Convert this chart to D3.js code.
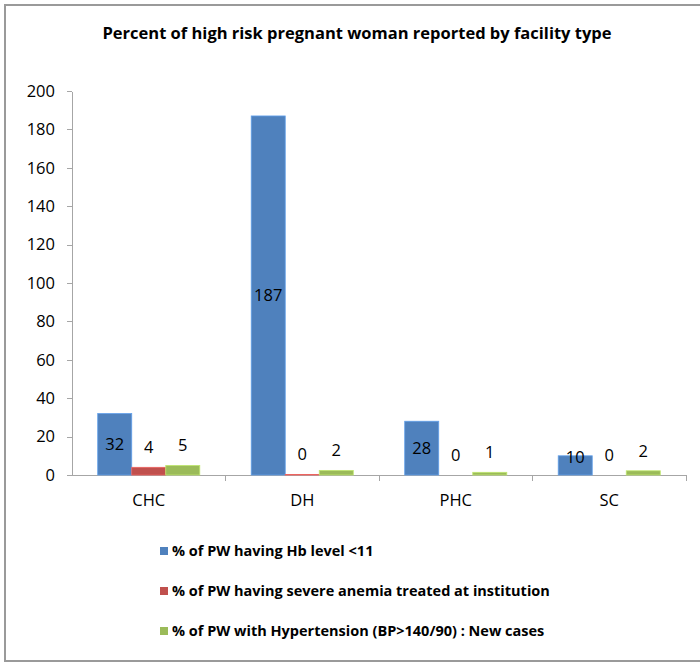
<!DOCTYPE html>
<html>
<meta charset="utf-8">
<style>
body { margin: 0; background: #fff; }
.axis path, .axis line { fill: none; stroke: #a6a6a6; shape-rendering: crispEdges; }
.axis text { font-family: 'Open Sans', sans-serif; font-size: 16.5px; fill: #000; }
</style>
<body>
<script src="https://cdn.jsdelivr.net/npm/d3@7"></script>
<script>
var w = 700, h = 663;

// chart data
var categories = ["CHC", "DH", "PHC", "SC"];
var seriesNames = [
  "% of PW having Hb level <11",
  "% of PW having severe anemia treated at institution",
  "% of PW with Hypertension (BP>140/90) : New cases"
];
var hbLow = [32, 187, 28, 10];
var severeAnemia = [4, 0.3, 0, 0];
var hypertension = [5, 2.4, 1.4, 2.2];
var yTicks = [0, 20, 40, 60, 80, 100, 120, 140, 160, 180, 200];
var colors = ["#4f81bd", "#c0504d", "#9bbb59"];

var series = [hbLow, severeAnemia, hypertension];

var margin = {left: 72, right: 686, top: 91, bottom: 475};

var svg = d3.select("body").append("svg")
    .attr("width", w)
    .attr("height", h);

// outer frame
svg.append("rect")
    .attr("x", 5).attr("y", 5)
    .attr("width", w + 5).attr("height", h - 7)
    .attr("fill", "#fff")
    .attr("stroke", "#9a9a9a")
    .attr("stroke-width", 2);

svg.append("text")
    .attr("x", 357)
    .attr("y", 39)
    .attr("text-anchor", "middle")
    .style("font-family", "'Open Sans', sans-serif")
    .style("font-weight", "bold")
    .style("font-size", "16.5px")
    .text("Percent of high risk pregnant woman reported by facility type");

var x0 = d3.scaleBand()
    .domain(categories)
    .range([margin.left, margin.right])
    .paddingInner(0.335)
    .paddingOuter(0.1675);

var x1 = d3.scaleBand()
    .domain(d3.range(series.length))
    .range([0, x0.bandwidth()]);

var y = d3.scaleLinear()
    .domain([0, 200])
    .range([margin.bottom, margin.top]);

// y axis
svg.append("g")
    .attr("class", "axis")
    .attr("transform", "translate(" + margin.left + ",0)")
    .call(d3.axisLeft(y).tickValues(yTicks).tickSize(5).tickSizeOuter(0).tickPadding(12));

// x axis with ticks between categories
var xAxis = svg.append("g")
    .attr("class", "axis")
    .attr("transform", "translate(0," + margin.bottom + ")");
xAxis.append("line")
    .attr("x1", margin.left - 5).attr("x2", margin.right)
    .attr("y1", 0).attr("y2", 0);
var step = x0.step();
xAxis.selectAll(".sep")
    .data(categories)
    .enter().append("line")
    .attr("x1", function(d) { return x0(d) - x0.padding() * step / 2 + step; })
    .attr("x2", function(d) { return x0(d) - x0.padding() * step / 2 + step; })
    .attr("y1", 0).attr("y2", 6);
xAxis.selectAll(".lbl")
    .data(categories)
    .enter().append("text")
    .attr("x", function(d) { return x0(d) + x0.bandwidth() / 2; })
    .attr("y", 31)
    .attr("text-anchor", "middle")
    .text(function(d) { return d; });

// bars
var groups = svg.selectAll(".series")
    .data(series)
    .enter().append("g")
    .attr("class", "series");

groups.selectAll("rect")
    .data(function(s, si) { return s.map(function(v, i) { return {cat: categories[i], v: v, si: si}; }); })
    .enter().append("rect")
    .attr("x", function(d) { return x0(d.cat) + x1(d.si); })
    .attr("y", function(d) { return y(d.v); })
    .attr("width", x1.bandwidth())
    .attr("height", function(d) { return y(0) - y(d.v); })
    .attr("fill", function(d) { return colors[d.si]; })
    .attr("stroke", function(d) { return d.v > 0 ? d3.color(colors[d.si]).brighter(0.6) : "none"; })
    .attr("stroke-width", 0.8);

// value labels
groups.selectAll("text")
    .data(function(s, si) { return s.map(function(v, i) { return {cat: categories[i], v: v, si: si}; }); })
    .enter().append("text")
    .attr("x", function(d) { return x0(d.cat) + x1(d.si) + x1.bandwidth() / 2; })
    .attr("y", function(d) {
      if (d.si === 0) return Math.min((y(d.v) + y(0)) / 2, y(0) - 18);
      return y(d.v) - 20;
    })
    .attr("dy", "0.35em")
    .attr("text-anchor", "middle")
    .style("font-family", "'Open Sans', sans-serif")
    .style("font-size", "16.5px")
    .text(function(d) { return Math.round(d.v); });

// legend
var legend = svg.selectAll(".legend")
    .data(seriesNames)
    .enter().append("g")
    .attr("class", "legend")
    .attr("transform", function(d, i) { return "translate(160," + (551 + i * 40) + ")"; });

legend.append("rect")
    .attr("x", 0).attr("y", -4)
    .attr("width", 8).attr("height", 8)
    .attr("fill", function(d, i) { return colors[i]; });

legend.append("text")
    .attr("x", 12)
    .attr("dy", "0.35em")
    .style("font-family", "'Open Sans', sans-serif")
    .style("font-weight", "bold")
    .style("font-size", "14.5px")
    .text(function(d) { return d; });
</script>
</body>
</html>
